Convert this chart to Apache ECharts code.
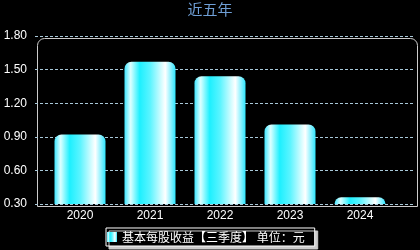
<!DOCTYPE html>
<html><head><meta charset="utf-8">
<script src="https://cdn.jsdelivr.net/npm/echarts@6/dist/echarts.min.js"></script>
<style>html,body{margin:0;padding:0;background:#000;}#c{width:420px;height:250px;}</style>
</head><body><div id="c"></div>
<script>
var categories = ['2020','2021','2022','2023','2024'];
var values = [0.92, 1.57, 1.44, 1.01, 0.36];
var yTicks = { min: 0.30, max: 1.80, interval: 0.30 };
var seriesName = '基本每股收益【三季度】 单位：元';
var titleText = '近五年';

var chart = echarts.init(document.getElementById('c'));
var grad = new echarts.graphic.LinearGradient(0,0,1,0,[
  {offset:0, color:'#3fe6ff'},
  {offset:0.12, color:'#dcffff'},
  {offset:0.3, color:'#1ef0ff'},
  {offset:0.5, color:'#5af4ff'},
  {offset:0.8, color:'#ffffff'},
  {offset:1, color:'#2ee6ff'}
]);
chart.setOption({
  backgroundColor:'#000',
  animation:false,
  title:{text:titleText,left:'center',top:-3,textStyle:{color:'#6f9fd6',fontSize:15,fontWeight:'normal',fontFamily:'Noto Sans CJK SC'}},
  grid:[{left:35,right:5,top:36,bottom:46},{left:45,right:25,top:36,bottom:46}],
  graphic:[{type:'rect',left:35,top:36,shape:{width:380,height:168,r:[7,7,0,0]},style:{fill:'none',stroke:'#cccccc',lineWidth:1},z:0,silent:true}],
  xAxis:[
    {type:'category',gridIndex:0,data:categories,show:false},
    {type:'category',gridIndex:1,data:categories,axisLine:{show:false},axisTick:{show:false},
    axisLabel:{color:'#fff',fontSize:12,margin:6,fontFamily:'Liberation Sans'}}],
  yAxis:[
    {type:'value',gridIndex:0,min:yTicks.min,max:yTicks.max,interval:yTicks.interval,
    axisLine:{show:false},axisTick:{show:false},
    axisLabel:{color:'#fff',fontSize:12,margin:8,fontFamily:'Liberation Sans',formatter:function(v){return v.toFixed(2);}},
    splitLine:{show:true,lineStyle:{color:'#a8c8d8',type:[3,2],width:1}}},
    {type:'value',gridIndex:1,min:yTicks.min,max:yTicks.max,interval:yTicks.interval,show:false,splitLine:{show:false}}],
  legend:{bottom:4,left:106,data:[{name:seriesName,icon:'rect'}],itemWidth:10,itemHeight:10,itemGap:3,
    textStyle:{color:'#fff',fontSize:12,fontFamily:'Noto Sans CJK SC'},
    backgroundColor:'#000',borderColor:'#fff',borderWidth:1,borderRadius:0,padding:[3,10,3,1],
    shadowColor:'#cccccc',shadowOffsetX:3,shadowOffsetY:3,shadowBlur:0},
  series:[{name:seriesName,type:'bar',xAxisIndex:1,yAxisIndex:1,data:values,barWidth:51,
    itemStyle:{color:grad,borderRadius:[7,7,0,0]}}],
  color:['#22e4ff']
});
</script></body></html>
